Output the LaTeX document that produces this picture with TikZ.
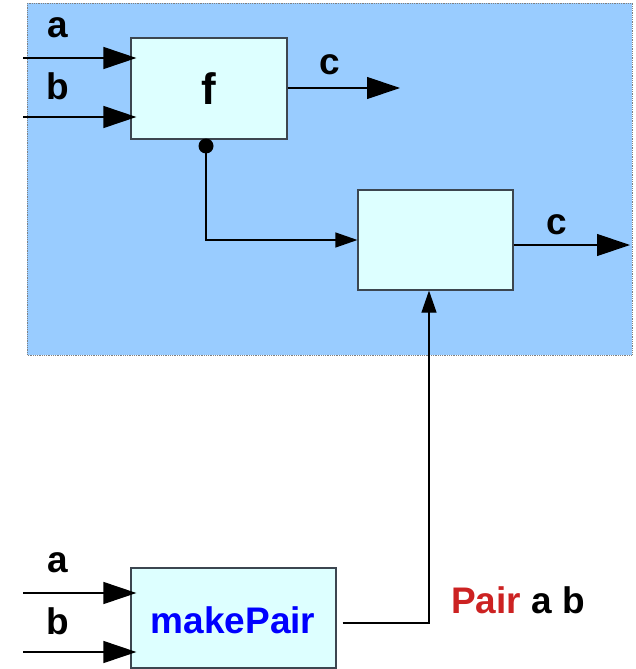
\documentclass[tikz,border=0pt]{standalone}
\usepackage{fontspec}
\setmainfont{Liberation Sans}
\usetikzlibrary{arrows.meta}
\definecolor{bgblue}{RGB}{153,204,255}
\definecolor{boxcyan}{RGB}{221,255,255}
\definecolor{pairred}{RGB}{204,34,34}
\begin{document}
\begin{tikzpicture}[x=1pt,y=-1pt]
    \tikzset{block/.style = {shape=rectangle, draw={rgb,255:red,60;green,70;blue,80}, line width=1.2pt, fill=boxcyan, inner sep=0pt}}
    \tikzset{lbl/.style = {inner sep=0pt, font=\fontsize{37}{40}\selectfont\bfseries}}
    \tikzset{wire/.style = {draw=black, line width=1.2pt}}
    \tikzset{bigarr/.style = {wire, -{Triangle[length=33pt,width=22pt]}}}
    \tikzset{smallarr/.style = {wire, -{Triangle[length=22pt,width=15pt]}}}

    \useasboundingbox (0,0) rectangle (636,669);

    % background
    \fill[bgblue] (27,3) rectangle (632,355);
    \draw[gray, densely dotted, line width=0.8pt] (27,3) rectangle (632,355);

    % vertices
    \node[block, minimum width=156pt, minimum height=101pt] (f) at (209,88.5) {};
    \node[block, minimum width=155pt, minimum height=100pt] (g) at (435.5,240) {};
    \node[block, minimum width=205pt, minimum height=100pt] (mp) at (233.5,618) {};

    \node[lbl, font=\fontsize{44}{48}\selectfont\bfseries] (flbl) at (209,89) {f};
    \node[lbl, text=blue] (mplbl) at (233,620) {makePair};

    \coordinate (fa) at (23,58);
    \coordinate (fb) at (23,117);
    \coordinate (fc) at (400,88);
    \coordinate (tap) at (206,146);
    \coordinate (gc) at (630,245);
    \coordinate (ma) at (23,593);
    \coordinate (mb) at (23,652);
    \coordinate (bend) at (429,623);

    % labels
    \node[lbl] (la1) at (58,28) {a};
    \node[lbl] (lb1) at (58,86) {b};
    \node[lbl] (lc1) at (330,65) {c};
    \node[lbl] (lc2) at (557,225) {c};
    \node[lbl] (la2) at (58,563) {a};
    \node[lbl] (lb2) at (58,621) {b};
    \node[lbl] (lpair) at (518,600) {\textcolor{pairred}{Pair} a b};

    % edges
    \draw[bigarr, shorten >=-6pt] (fa) -- (fa -| f.west);
    \draw[bigarr, shorten >=-6pt] (fb) -- (fb -| f.west);
    \draw[bigarr] (f.east |- fc) -- (fc);
    \fill (tap) circle (7.5pt);
    \draw[smallarr] (tap) |- (g.west);
    \draw[bigarr] (g.east |- gc) -- (gc);
    \draw[bigarr, shorten >=-6pt] (ma) -- (ma -| mp.west);
    \draw[bigarr, shorten >=-6pt] (mb) -- (mb -| mp.west);
    \draw[smallarr] ([xshift=6pt]mp.east |- bend) -- (bend) -- (g.south -| bend);
\end{tikzpicture}
\end{document}
